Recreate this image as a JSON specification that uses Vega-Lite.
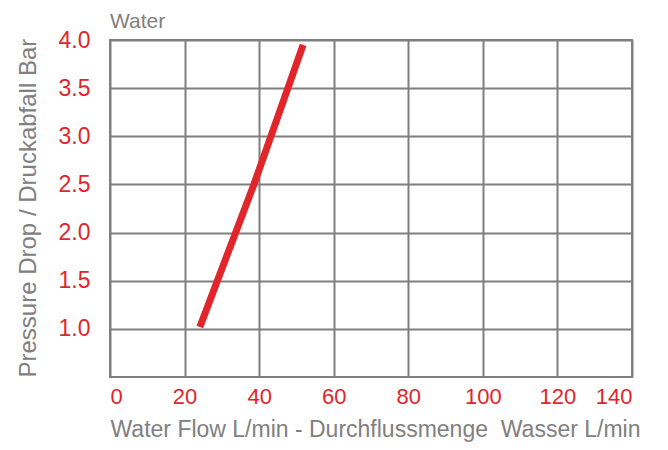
{
  "$schema": "https://vega.github.io/schema/vega-lite/v6.json",
  "autosize": "none",
  "width": 522,
  "height": 337,
  "padding": {"left": 110, "top": 40, "right": 36, "bottom": 73},
  "background": "white",
  "title": {
    "text": "Water",
    "anchor": "start",
    "frame": "group",
    "font": "Liberation Sans",
    "fontSize": 21,
    "fontWeight": "normal",
    "color": "#808080",
    "offset": -3
  },
  "config": {
    "view": {"stroke": "#808080", "strokeWidth": 2},
    "axis": {
      "labelFont": "Liberation Sans",
      "titleFont": "Liberation Sans",
      "labelColor": "#e0262a",
      "titleColor": "#808080",
      "titleFontWeight": "normal",
      "gridColor": "#7f7f7f",
      "gridWidth": 2,
      "gridOpacity": 1,
      "domain": false,
      "ticks": false
    }
  },
  "data": {
    "values": [
      {"flow": 24.1, "drop": 1.02},
      {"flow": 38.6, "drop": 2.5},
      {"flow": 51.8, "drop": 3.95}
    ]
  },
  "mark": {"type": "line", "color": "#e0262a", "strokeWidth": 7, "strokeCap": "butt"},
  "encoding": {
    "x": {
      "field": "flow",
      "type": "quantitative",
      "scale": {"domain": [0, 140], "nice": false, "zero": false},
      "axis": {
        "values": [0, 20, 40, 60, 80, 100, 120, 140],
        "format": "d",
        "labelFontSize": 22,
        "labelPadding": 9,
        "title": "Water Flow L/min - Durchflussmenge\u00a0 Wasser L/min",
        "titleFontSize": 23,
        "titlePadding": 11,
        "titleAnchor": "start"
      }
    },
    "y": {
      "field": "drop",
      "type": "quantitative",
      "scale": {"domain": [0.5, 4.0], "nice": false, "zero": false},
      "axis": {
        "values": [1.0, 1.5, 2.0, 2.5, 3.0, 3.5, 4.0],
        "format": ".1f",
        "labelFontSize": 23,
        "labelPadding": 20,
        "title": "Pressure Drop / Druckabfall Bar",
        "titleFontSize": 24,
        "titlePadding": 18,
        "titleAnchor": "start"
      }
    }
  }
}
